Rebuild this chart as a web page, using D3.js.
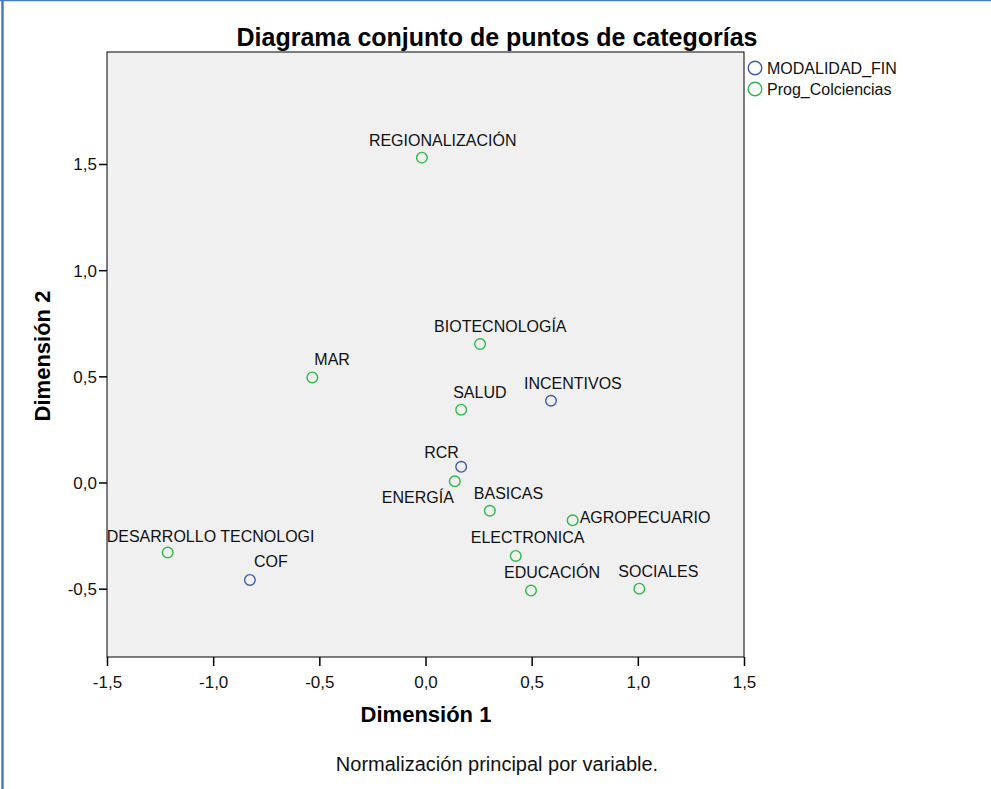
<!DOCTYPE html>
<html>
<head>
<meta charset="utf-8">
<script src="https://cdn.jsdelivr.net/npm/d3@7"></script>
<style>
  body { margin: 0; background: #fff; }
  svg { display: block; font-family: "Liberation Sans", Arial, sans-serif; }
</style>
</head>
<body>
<svg></svg>
<script>
const width = 991;
const height = 789;

// category points (object scores)
const modalidadNames = ["INCENTIVOS", "RCR", "COF"];
const modalidadDim1 = [0.591, 0.168, -0.827];
const modalidadDim2 = [0.385, 0.074, -0.459];

const progNames = ["REGIONALIZACIÓN", "BIOTECNOLOGÍA", "MAR", "SALUD", "ENERGÍA", "BASICAS",
                   "AGROPECUARIO", "ELECTRONICA", "EDUCACIÓN", "SOCIALES", "DESARROLLO TECNOLOGI"];
const progDim1 = [-0.017, 0.257, -0.533, 0.168, 0.138, 0.303, 0.693, 0.425, 0.497, 1.007, -1.214];
const progDim2 = [1.530, 0.652, 0.495, 0.343, 0.006, -0.133, -0.178, -0.346, -0.509, -0.500, -0.330];

const xTicks = [-1.5, -1.0, -0.5, 0.0, 0.5, 1.0, 1.5];
const yTicks = [-0.5, 0.0, 0.5, 1.0, 1.5];

const seriesNames = ["MODALIDAD_FIN", "Prog_Colciencias"];
const seriesColors = ["#3e58ac", "#2eb848"];

// where each label sits relative to its point (pixels: left edge, baseline)
const labelOffset = {
  "REGIONALIZACIÓN": [-53, -12], "BIOTECNOLOGÍA": [-46, -12], "MAR": [2, -12],
  "SALUD": [-8, -12], "INCENTIVOS": [-27, -12], "RCR": [-37, -9],
  "ENERGÍA": [-73, 22], "BASICAS": [-16, -12], "AGROPECUARIO": [7, 3],
  "ELECTRONICA": [-45, -13], "EDUCACIÓN": [-27, -13], "SOCIALES": [-21, -12],
  "DESARROLLO TECNOLOGI": [-61, -11], "COF": [4, -13]
};

const points = [];
modalidadNames.forEach((n, i) => points.push({name: n, x: modalidadDim1[i], y: modalidadDim2[i], s: 0}));
progNames.forEach((n, i) => points.push({name: n, x: progDim1[i], y: progDim2[i], s: 1}));

const plot = {left: 107, right: 744, top: 52, bottom: 657};

const svg = d3.select("svg")
  .attr("width", width)
  .attr("height", height);

// page frame
svg.append("line").attr("x1", 0).attr("x2", width).attr("y1", 0.5).attr("y2", 0.5)
  .attr("stroke", "#4a7ebb").attr("stroke-width", 1.5);
svg.append("line").attr("x1", 2.5).attr("x2", 2.5).attr("y1", 0).attr("y2", height)
  .attr("stroke", "#4a7ebb").attr("stroke-width", 2.5);

const xScale = d3.scaleLinear()
  .domain([-1.5, 1.5])
  .range([plot.left, plot.right]);

const unit = (plot.right - plot.left) / 3;
const yScale = d3.scaleLinear()
  .domain([(482.5 - plot.bottom) / unit, (482.5 - plot.top) / unit])
  .range([plot.bottom, plot.top]);

// comma decimals and a plain hyphen for the minus
const fmt = d => d.toFixed(1).replace(".", ",");

svg.append("rect")
  .attr("x", plot.left)
  .attr("y", plot.top)
  .attr("width", plot.right - plot.left)
  .attr("height", plot.bottom - plot.top)
  .attr("fill", "#f0f0f0")
  .attr("stroke", "#000")
  .attr("stroke-width", 1);

const xAxis = d3.axisBottom(xScale).tickValues(xTicks).tickFormat(fmt).tickSize(9).tickSizeOuter(0);
const yAxis = d3.axisLeft(yScale).tickValues(yTicks).tickFormat(fmt).tickSize(8).tickSizeOuter(0);

const gx = svg.append("g")
  .attr("transform", `translate(0,${plot.bottom})`)
  .call(xAxis);
gx.select(".domain").remove();
gx.selectAll("line").attr("stroke", "#000").attr("stroke-width", 1.5);
gx.selectAll("text").attr("fill", "#111").style("font-size", "17px")
  .attr("y", 31).attr("dy", null);

const gy = svg.append("g")
  .attr("transform", `translate(${plot.left},0)`)
  .call(yAxis);
gy.select(".domain").remove();
gy.selectAll("line").attr("stroke", "#000").attr("stroke-width", 1.5);
gy.selectAll("text").attr("fill", "#111").style("font-size", "17px").attr("x", -10).attr("dy", "0.35em");

// title and axis titles
svg.append("text")
  .attr("x", 497)
  .attr("y", 46)
  .style("text-anchor", "middle")
  .style("font-weight", "bold")
  .style("font-size", "25px")
  .text("Diagrama conjunto de puntos de categorías");

svg.append("text")
  .attr("x", 426)
  .attr("y", 722)
  .style("text-anchor", "middle")
  .style("font-weight", "bold")
  .style("font-size", "22px")
  .text("Dimensión 1");

svg.append("text")
  .attr("transform", "rotate(-90)")
  .attr("x", -356)
  .attr("y", 50)
  .style("text-anchor", "middle")
  .style("font-weight", "bold")
  .style("font-size", "22px")
  .text("Dimensión 2");

svg.append("text")
  .attr("x", 497)
  .attr("y", 771)
  .style("text-anchor", "middle")
  .style("font-size", "20px")
  .attr("fill", "#111")
  .text("Normalización principal por variable.");

// points
const pts = svg.append("g");
pts.selectAll("circle")
  .data(points)
  .enter()
  .append("circle")
    .attr("cx", d => xScale(d.x))
    .attr("cy", d => yScale(d.y))
    .attr("r", 5.3)
    .attr("fill", "none")
    .attr("stroke", d => seriesColors[d.s])
    .attr("stroke-width", 1.4);

pts.selectAll("text")
  .data(points)
  .enter()
  .append("text")
    .attr("x", d => xScale(d.x) + labelOffset[d.name][0])
    .attr("y", d => yScale(d.y) + labelOffset[d.name][1])
    .style("font-size", "16px")
    .attr("fill", "#111")
    .text(d => d.name);

// legend
const legend = svg.append("g");
seriesNames.forEach((n, i) => {
  legend.append("circle")
    .attr("cx", 755)
    .attr("cy", 68 + i * 21)
    .attr("r", 6.8)
    .attr("fill", "none")
    .attr("stroke", seriesColors[i])
    .attr("stroke-width", 1.4);
  legend.append("text")
    .attr("x", 767)
    .attr("y", 68 + i * 21)
    .attr("dy", "0.35em")
    .style("font-size", "16px")
    .attr("fill", "#111")
    .text(n);
});
</script>
</body>
</html>
